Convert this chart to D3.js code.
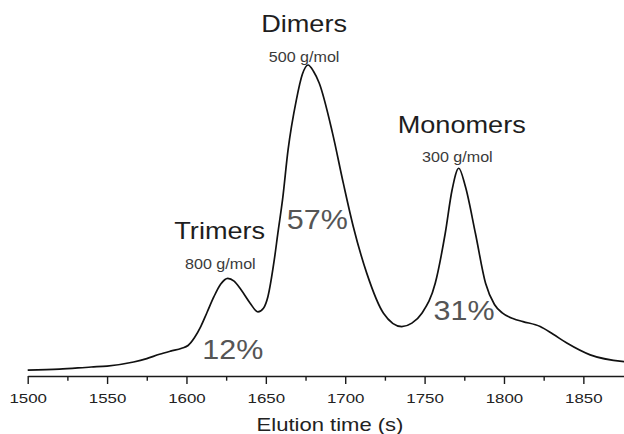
<!DOCTYPE html>
<html>
<head>
<meta charset="utf-8">
<script src="https://cdn.jsdelivr.net/npm/d3@7"></script>
<style>
  html, body { margin: 0; padding: 0; background: #fff; }
  svg { display: block; font-family: "Liberation Sans", Arial, Helvetica, sans-serif; }
</style>
</head>
<body>
<svg id="chart" width="624" height="434"></svg>
<script>
// Elution trace (detector signal, relative units) against elution time in seconds
const times = [
  1500, 1520, 1540, 1550, 1566.7, 1575, 1583, 1590, 1597, 1601,
  1605, 1609, 1613, 1617.3, 1621.5, 1626, 1630, 1634.4, 1640, 1645,
  1648.5, 1651.3, 1655.3, 1657.6, 1660.5, 1664, 1669.2, 1673, 1676.6, 1680,
  1683.6, 1692, 1698.8, 1705.1, 1713.6, 1724.1, 1735.6, 1742, 1748.3, 1756.7,
  1763, 1767.3, 1771.5, 1775.7, 1782, 1788.4, 1794, 1798.9, 1806, 1812,
  1822.8, 1831, 1839.6, 1854.3, 1876
];
const signal = [
  1.9, 2.2, 2.9, 3.2, 4.5, 5.6, 7.0, 8.0, 8.9, 9.8,
  12.3, 15.9, 20.5, 25.5, 29.5, 31.4, 30.5, 27.7, 23.5, 20.6,
  21.8, 25.5, 37.3, 46.0, 56.6, 72.7, 88.7, 97.0, 100, 98.0,
  94.2, 78.1, 62.0, 48.0, 33.0, 20.2, 15.9, 17.0, 20.2, 29.8,
  45.9, 59.8, 66.8, 60.9, 45.9, 29.8, 23.0, 20.3, 18.4, 17.5,
  15.9, 13.4, 10.6, 6.8, 4.6
];

// Peak annotations, in order of elution
const peakNames = ["Trimers", "Dimers", "Monomers"];
const peakMasses = ["800 g/mol", "500 g/mol", "300 g/mol"];
const peakShares = [12, 57, 31];

// Axis ticks
const majorTicks = [1500, 1550, 1600, 1650, 1700, 1750, 1800, 1850];
const minorTicks = [1525, 1575, 1625, 1675, 1725, 1775, 1825];
const xTitle = "Elution time (s)";

const svg = d3.select("#chart");

const x = d3.scaleLinear().domain([1500, 1875.6]).range([27.7, 624]);
const y = d3.scaleLinear().domain([0, 100]).range([376, 65]);

const axisY = 376;

// minor ticks first, then the major axis on top
svg.append("g")
  .attr("transform", `translate(0,${axisY})`)
  .call(d3.axisBottom(x).tickValues(minorTicks).tickSize(4.7).tickSizeOuter(0).tickFormat(""))
  .call(g => g.select(".domain").remove())
  .call(g => g.selectAll(".tick line").attr("stroke", "#1a1a1a").attr("stroke-width", 1.4));

const axis = svg.append("g")
  .attr("transform", `translate(0,${axisY})`)
  .call(d3.axisBottom(x).tickValues(majorTicks).tickSize(8).tickSizeOuter(0).tickFormat(d3.format("d")));

axis.select(".domain").attr("stroke", "#1a1a1a").attr("stroke-width", 1.5);
axis.selectAll(".tick line").attr("stroke", "#1a1a1a").attr("stroke-width", 1.4);
axis.selectAll(".tick text")
  .attr("y", 0).attr("dy", 0)
  .attr("transform", "translate(0,26.7) scale(1.25,1)")
  .attr("fill", "#222")
  .style("font-size", "13.5px")
  .style("font-family", "'Liberation Sans', Arial, sans-serif");

// stretched text helper
function label(text, cx, by, size, sx, fill) {
  svg.append("text")
    .attr("transform", `translate(${cx},${by}) scale(${sx},1)`)
    .attr("text-anchor", "middle")
    .attr("fill", fill)
    .style("font-size", size + "px")
    .text(text);
}

label(xTitle, 330, 431, 19, 1.16, "#222");

// the trace
const line = d3.line()
  .x((d, i) => x(times[i]))
  .y(d => y(d))
  .curve(d3.curveMonotoneX);

svg.append("path")
  .datum(signal)
  .attr("d", line)
  .attr("fill", "none")
  .attr("stroke", "#111")
  .attr("stroke-width", 1.7)
  .attr("stroke-linejoin", "round");

// locate the peaks as local maxima of the trace
const peaks = [];
for (let i = 1; i < signal.length - 1; i++) {
  if (signal[i] > signal[i - 1] && signal[i] > signal[i + 1]) peaks.push(i);
}

// label placement around each peak
const namePlace = [{ dx: -8, dy: -39 }, { dx: -4, dy: -33.3 }, { dx: 3, dy: -35 }];
const massPlace = [{ dx: -7.4, dy: -9.3 }, { dx: -4, dy: -3.3 }, { dx: -1.4, dy: -6 }];
const sharePlace = [{ dx: 5, v: 5.4 }, { dx: 9.3, v: 47.3 }, { dx: 5.3, v: 18 }];

peaks.forEach((idx, k) => {
  const px = x(times[idx]);
  const py = y(signal[idx]);
  label(peakNames[k], px + namePlace[k].dx, py + namePlace[k].dy, 23, 1.18, "#1e1e1e");
  label(peakMasses[k], px + massPlace[k].dx, py + massPlace[k].dy, 14, 1.15, "#3a3a3a");
  label(peakShares[k] + "%", px + sharePlace[k].dx, y(sharePlace[k].v), 28.5, 1.07, "#555");
});
</script>
</body>
</html>
